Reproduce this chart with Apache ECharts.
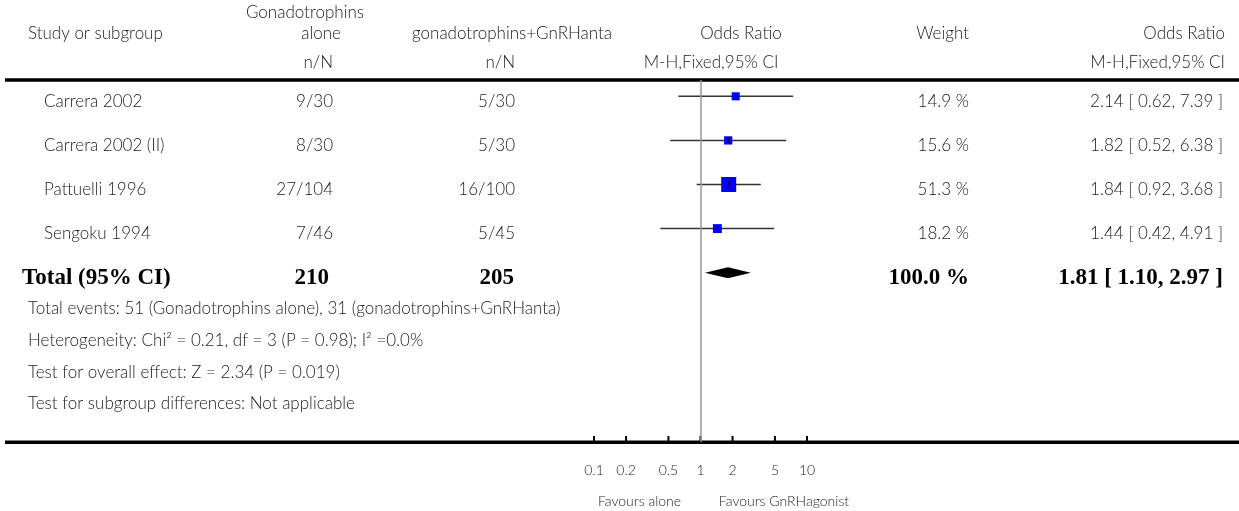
<!DOCTYPE html>
<html>
<head>
<meta charset="utf-8">
<script src="https://cdn.jsdelivr.net/npm/echarts@6/dist/echarts.min.js"></script>
<style>
html,body{margin:0;padding:0;background:#fff;}
#chart{width:1239px;height:511px;}
</style>
</head>
<body>
<div id="chart"></div>
<script>
// ---- data ----
const studies = ['Carrera 2002', 'Carrera 2002 (II)', 'Pattuelli 1996', 'Sengoku 1994'];
const aloneEvents = ['9/30', '8/30', '27/104', '7/46'];
const gnrhEvents = ['5/30', '5/30', '16/100', '5/45'];
const weights = [14.9, 15.6, 51.3, 18.2];
const oddsRatios = [2.14, 1.82, 1.84, 1.44];
const ciLow = [0.62, 0.52, 0.92, 0.42];
const ciHigh = [7.39, 6.38, 3.68, 4.91];
const totalOR = [1.81, 1.10, 2.97];
const totalN = ['210', '205'];
const totalWeight = '100.0 %';
const tickValues = [0.1, 0.2, 0.5, 1, 2, 5, 10];
const tickLabels = ['0.1', '0.2', '0.5', '1', '2', '5', '10'];
const footerLines = [
  'Total events: 51 (Gonadotrophins alone), 31 (gonadotrophins+GnRHanta)',
  'Heterogeneity: Chi\u00B2 = 0.21, df = 3 (P = 0.98); I\u00B2 =0.0%',
  'Test for overall effect: Z = 2.34 (P = 0.019)',
  'Test for subgroup differences: Not applicable'
];

const FONT = 'Lato';
const SERIF = '"Liberation Serif"';
const TXT = '#222';
const FS = 17;

const chart = echarts.init(document.getElementById('chart'), null, {renderer: 'canvas'});

const studyData = studies.map((s, i) => [oddsRatios[i], ciLow[i], ciHigh[i], i, weights[i]]);
const totalRow = studies.length;

chart.setOption({
  animation: false,
  grid: {left: 594, right: 1239 - 807, top: 80, bottom: 511 - 442},
  xAxis: {
    type: 'log', logBase: 10, min: 0.1, max: 10,
    axisLine: {show: false},
    splitLine: {show: false},
    axisTick: {show: false},
    axisLabel: {
      customValues: tickValues, margin: 21, fontFamily: FONT, fontSize: 14, color: TXT, fontWeight: 300,
      formatter: v => { const k = tickValues.findIndex(t => Math.abs(t - v) < 1e-9); return k >= 0 ? tickLabels[k] : ''; }
    }
  },
  yAxis: {type: 'value', inverse: true, min: -0.37, max: 7.84, show: false},
  series: [
    {
      type: 'custom',
      data: studyData,
      renderItem: (params, api) => {
        const o = api.value(0), l = api.value(1), h = api.value(2), r = api.value(3), w = api.value(4);
        const pl = api.coord([l, r]), ph = api.coord([h, r]), po = api.coord([o, r]);
        const s = 2.09 * Math.sqrt(w);
        return {type: 'group', children: [
          {type: 'line', shape: {x1: pl[0], y1: pl[1], x2: ph[0], y2: ph[1]}, style: {stroke: '#333', lineWidth: 1.5}},
          {type: 'rect', shape: {x: po[0] - s / 2, y: po[1] - s / 2, width: s, height: s}, style: {fill: '#0000ff'}},
          {type: 'line', shape: {x1: po[0], y1: po[1] - 2.5, x2: po[0], y2: po[1] + 2.5}, style: {stroke: '#000', lineWidth: 1}}
        ]};
      },
      markLine: {
        silent: true, symbol: 'none', label: {show: false},
        lineStyle: {color: '#999', width: 1.5, type: 'solid'},
        data: [{xAxis: 1}]
      },
      z: 3
    },
    {
      type: 'custom',
      data: [[totalOR[0], totalOR[1], totalOR[2], totalRow]],
      renderItem: (params, api) => {
        const o = api.value(0), l = api.value(1), h = api.value(2), r = api.value(3);
        const pl = api.coord([l, r]), ph = api.coord([h, r]), po = api.coord([o, r]);
        const hh = 5.5;
        return {type: 'polygon', shape: {points: [[pl[0], pl[1]], [po[0], po[1] - hh], [ph[0], ph[1]], [po[0], po[1] + hh]]}, style: {fill: '#000'}};
      },
      z: 3
    }
  ]
});

// ---- table text, rows placed through the y axis scale ----
const rowY = i => chart.convertToPixel({yAxisIndex: 0}, i);
const g = [];
function txt(x, y, text, align, opts) {
  g.push({type: 'text', x: x, y: y, silent: true, style: Object.assign({
    text: text, align: align, verticalAlign: 'middle', fontFamily: FONT, fontSize: FS, fontWeight: 300, fill: TXT
  }, opts || {})});
}
// rules
g.push({type: 'line', shape: {x1: 5, y1: 80, x2: 1239, y2: 80}, style: {stroke: '#000', lineWidth: 3.5}});
g.push({type: 'line', shape: {x1: 5, y1: 442.3, x2: 1239, y2: 442.3}, style: {stroke: '#000', lineWidth: 3.5}});
// axis ticks from the x scale
tickValues.forEach(v => {
  const x = chart.convertToPixel({xAxisIndex: 0}, v);
  g.push({type: 'line', shape: {x1: x, y1: 436, x2: x, y2: 442}, style: {stroke: '#000', lineWidth: 2}});
});
// header
txt(28, 34, 'Study or subgroup', 'left');
txt(305, 13, 'Gonadotrophins', 'center');
txt(321, 34, 'alone', 'center');
txt(333, 63, 'n/N', 'right');
txt(512, 34, 'gonadotrophins+GnRHanta', 'center');
txt(515, 63, 'n/N', 'right');
txt(741, 34, 'Odds Ratio', 'center');
txt(711, 63, 'M-H,Fixed,95% CI', 'center');
txt(969, 34, 'Weight', 'right');
txt(1225, 34, 'Odds Ratio', 'right');
txt(1225, 63, 'M-H,Fixed,95% CI', 'right');
// study rows
studies.forEach((s, i) => {
  const y = rowY(i) + 5;
  txt(44, y, s, 'left');
  txt(333, y, aloneEvents[i], 'right');
  txt(515, y, gnrhEvents[i], 'right');
  txt(969, y, weights[i].toFixed(1) + ' %', 'right');
  txt(1223, y, oddsRatios[i].toFixed(2) + ' [ ' + ciLow[i].toFixed(2) + ', ' + ciHigh[i].toFixed(2) + ' ]', 'right');
});
// total row
{
  const y = rowY(totalRow) + 5;
  const bold = {fontFamily: SERIF, fontWeight: 'bold', fontSize: 23, fill: '#000'};
  txt(22, y, 'Total (95% CI)', 'left', bold);
  txt(329, y, totalN[0], 'right', bold);
  txt(514, y, totalN[1], 'right', bold);
  txt(969, y, totalWeight, 'right', bold);
  txt(1223, y, totalOR[0].toFixed(2) + ' [ ' + totalOR[1].toFixed(2) + ', ' + totalOR[2].toFixed(2) + ' ]', 'right', bold);
}
// footer
const footY = [309, 341, 373, 404];
footerLines.forEach((t, i) => txt(28, footY[i], t, 'left'));
// favours labels
txt(639.5, 501, 'Favours alone', 'center', {fontSize: 14});
txt(784, 501, 'Favours GnRHagonist', 'center', {fontSize: 14});

chart.setOption({graphic: g});
</script>
</body>
</html>
